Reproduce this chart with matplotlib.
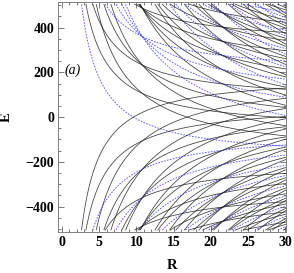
import numpy as np
import matplotlib
matplotlib.use("Agg")
import matplotlib.pyplot as plt
from matplotlib.ticker import MultipleLocator

# Level ladder:
# E = s * (alpha * (n - 3/2) + kappa * (j + 1/3) / R)
alpha = 127.0
kappa = 1372.0
n_values = [0, 1, 2, 3, 4, 5]
j_values = [1, 2, 3, 4, 5, 6, 7, 8, 9, 10, 11, 12, 13, 14, 15]
branches = [1, -1]   # +1 falls from the top, -1 rises from the bottom

fig = plt.figure(figsize=(2.94, 2.73), dpi=100)
ax = fig.add_axes([0.1956, 0.149, 0.777, 0.844])
R = np.linspace(0.3, 30.5, 1500)

def is_blue(s, n, j):
    if s > 0:
        return (n + j) % 3 == 1
    return n % 3 == 2

for s in branches:
    for n in n_values:
        for j in j_values:
            E = s * (alpha * (n - 1.5) + kappa * (j + 1.0 / 3.0) / R)
            E = np.where((E > -505) & (E < 505), E, np.nan)
            if np.all(np.isnan(E)):
                continue
            if is_blue(s, n, j):
                ax.plot(R, E, color="#3c3cff", lw=0.65, ls=(0, (1.8, 1.5)), alpha=0.9)
            else:
                ax.plot(R, E, color="#1a1a1a", lw=0.55, alpha=0.85)

ax.set_xlim(-0.6, 30.1)
ax.set_ylim(-515, 515)
ax.xaxis.set_minor_locator(MultipleLocator(1))
ax.yaxis.set_minor_locator(MultipleLocator(50))
ax.tick_params(which="both", direction="in", top=True, right=True,
               labelsize=10, width=0.6, colors="#666666", labelcolor="black", pad=2.5)
ax.tick_params(which="major", length=4)
ax.tick_params(which="minor", length=2)
for s_ in ax.spines.values():
    s_.set_color("#808080")
    s_.set_linewidth(0.7)

ax.set_xticks([0, 5, 10, 15, 20, 25, 30])
ax.set_xticklabels(["0", "5", "10", "15", "20", "25", "30"], family="Liberation Serif", fontweight="bold")
ax.set_yticks([-400, -200, 0, 200, 400])
ax.set_yticklabels(["\u2212400", "\u2212200", "0", "200", "400"], family="Liberation Serif", fontweight="bold")

fig.text(0.585, 0.027, "R", family="Liberation Serif", fontweight="bold", fontsize=10.5, ha="center", va="center")
fig.text(0.022, 0.57, "E", family="Liberation Serif", fontweight="bold", fontsize=10.5, ha="center", va="center", rotation=90)
ax.text(1.43, 210, "(a)", family="Liberation Serif", style="italic", fontsize=10, ha="center", va="center")

fig.savefig("out.png", dpi=100)
